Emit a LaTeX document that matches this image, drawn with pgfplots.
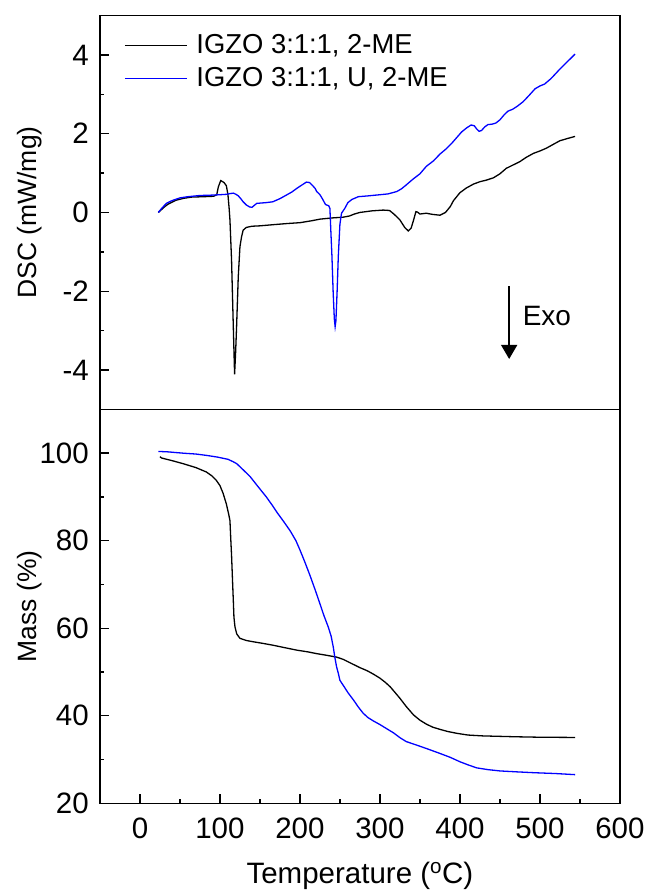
\documentclass[border=0pt]{standalone}
\usepackage{fontspec}
\setmainfont{Liberation Sans}
\usepackage{pgfplots}
\pgfplotsset{compat=1.18}
\usetikzlibrary{arrows.meta}
\newcommand{\ff}{\fontsize{26.5}{31.8}\selectfont}
\newcommand{\ft}{\fontsize{29.5}{35}\selectfont}
\newcommand{\fl}{\fontsize{27.4}{33}\selectfont}
\newcommand{\fe}{\fontsize{28}{33}\selectfont}

\pgfplotstableread{
x y
23 0.00
30 0.13
35 0.21
45 0.31
55 0.36
65 0.39
80 0.40
92 0.41
96 0.45
98 0.65
101 0.81
105 0.76
108 0.68
110 0.45
111.5 0.1
112.5 -0.19
114.5 -1.2
116.7 -2.9
118.3 -4.11
119.5 -3.6
120.8 -2.9
122.9 -1.63
125 -0.87
127 -0.62
129 -0.45
133 -0.38
140 -0.35
150 -0.34
167 -0.31
185 -0.28
200 -0.26
215 -0.21
225 -0.17
240 -0.14
254 -0.12
262 -0.09
268 -0.04
275 0.00
290 0.04
304 0.06
312 0.05
318 -0.05
325 -0.19
331 -0.38
335.5 -0.47
339 -0.40
342 -0.20
345 0.02
347 0.01
350 -0.04
358 -0.02
366 -0.05
375 -0.07
382 0.00
388 0.15
392 0.30
400 0.50
408 0.62
417 0.72
425 0.78
433 0.82
442 0.88
450 0.98
458 1.12
466 1.20
475 1.29
483 1.40
492 1.50
500 1.56
508 1.63
516 1.72
525 1.82
535 1.88
544 1.93
}\dscA

\pgfplotstableread{
x y
23 0.00
27 0.10
33 0.23
40 0.30
50 0.37
60 0.40
75 0.43
90 0.44
100 0.45
108 0.46
113 0.48
117 0.49
120 0.46
123 0.42
126 0.35
129 0.27
133 0.19
137 0.14
140 0.13
143 0.18
146 0.23
152 0.24
158 0.25
166 0.27
175 0.35
183 0.44
190 0.52
196 0.61
202 0.69
208 0.77
212 0.76
215 0.70
219 0.61
221 0.53
225 0.45
228 0.35
232 0.20
236 0.17
237.5 0.10
238.5 -0.4
240 -1.1
241.5 -2.0
243 -2.7
244 -2.90
245 -2.75
246.5 -2.0
248 -1.1
250 -0.3
252 -0.02
256 0.10
260 0.25
265 0.33
273 0.40
285 0.42
300 0.45
310 0.47
321 0.53
327 0.60
333 0.70
341 0.84
350 0.98
358 1.17
367 1.31
375 1.48
382 1.60
390 1.76
396 1.90
402 2.04
408 2.14
414 2.22
418 2.20
421 2.12
424 2.06
427 2.08
431 2.17
435 2.23
440 2.24
445 2.27
450 2.35
455 2.47
460 2.57
466 2.62
472 2.70
479 2.81
486 2.96
494 3.14
500 3.21
506 3.26
514 3.40
520 3.53
525 3.64
531 3.76
537 3.88
544 4.02
}\dscB

\pgfplotstableread{
x y
25 99.2
27 98.9
40 98.3
54 97.6
70 96.7
83 95.7
90 94.8
95 93.9
100 92.6
104 90.8
108 88.4
111 86.0
112.5 84.6
113.5 80.5
114.6 76.3
115.7 71.0
116.7 66.4
117.5 62.5
118.8 60.3
121 58.7
125 57.7
133 57.2
142 56.9
155 56.5
167 56.1
180 55.6
196 55.0
210 54.6
221 54.2
234 53.8
246 53.4
254 52.9
265 51.9
275 51.0
284 50.3
292 49.5
300 48.6
307 47.6
313 46.6
319 45.3
325 44.0
333 42.1
342 40.2
350 39.0
358 38.1
366 37.4
375 36.9
385 36.4
396 36.0
410 35.6
429 35.4
450 35.3
471 35.2
500 35.1
544 35.05
}\tgaA

\pgfplotstableread{
x y
23 100.4
35 100.3
54 100.0
70 99.8
83 99.5
97 99.1
110 98.6
116 98.1
121 97.6
129 96.2
137.5 94.7
147 92.5
158 90.0
165 88.2
172 86.3
180 84.3
188 82.2
195 80.0
200 77.9
206 75.2
212.5 72.1
219 68.8
225 65.6
230 62.9
235.4 60.3
239 58.2
241.7 55.7
243.5 53.5
245.8 51.2
248 49.7
250 48.1
254 47.0
260 45.3
267 43.6
273 42.0
279 40.6
285 39.6
292 38.8
300 38.0
308 37.1
317 36.1
325 35.0
333 34.1
346 33.3
360 32.4
375 31.4
388 30.5
400 29.5
410 28.8
421 28.1
435 27.7
450 27.4
470 27.2
492 27.0
520 26.8
544 26.55
}\tgaB

\begin{document}
\begin{tikzpicture}[font=\ff]
\pgfplotsset{
 common/.style={
  scale only axis, width=520pt, height=394pt,
  xmin=-50, xmax=600,
  axis line style={line width=1.6pt},
  tick align=inside,
  major tick length=9pt, minor tick length=4.5pt,
  every tick/.style={black, line width=1.4pt},
  xtick pos=left, ytick pos=left,
  /pgf/number format/assume math mode=true,
  tick label style={font=\ft},
  xticklabel style={anchor=north, inner sep=0pt, yshift=-14.7pt},
  yticklabel style={anchor=east, inner sep=0pt, xshift=-11pt},
  label style={font=\ff},
  every axis y label/.style={at={(axis description cs:-0.1346,0.5)}, rotate=90, anchor=center},
  every axis plot/.append style={line width=1.3pt},
 }
}
\begin{axis}[common, name=bot, at={(0,0)}, anchor=south west,
  ymin=20, ymax=110, ytick={20,40,60,80,100}, minor ytick={30,50,70,90},
  xtick={0,100,...,600}, minor xtick={50,150,...,550},
  ylabel={Mass (\%)},
  xlabel={Temperature (\textsuperscript{o}C)},
  every axis x label/.style={at={(axis description cs:0.5,-0.2023)}, anchor=base, font=\ft},
  ]
\addplot[black, no markers] table[x=x,y=y] {\tgaA};
\addplot[blue, no markers] table[x=x,y=y] {\tgaB};
\end{axis}
\begin{axis}[common, name=top, at={(0,394pt)}, anchor=south west,
  ymin=-5, ymax=5, ytick={-4,-2,0,2,4}, minor ytick={-3,-1,1,3},
  xtick=\empty,
  ylabel={DSC (mW/mg)},
  legend cell align=left,
  legend image code/.code={\draw[#1, line width=1.3pt] (0pt,0pt) -- (62pt,0pt);},
  legend style={at={(axis description cs:0.0462,0.9548)}, anchor=north west,
    draw=none, fill=none, inner sep=0pt, column sep=9pt, row sep=9.3pt, font=\fl,
    nodes={inner xsep=0pt, inner ysep=0pt, text height=20pt, text depth=4pt}},
  ]
\addplot[black, no markers] table[x=x,y=y] {\dscA};
\addplot[blue, no markers] table[x=x,y=y] {\dscB};
\legend{{IGZO 3:1:1, 2-ME},{IGZO 3:1:1, U, 2-ME}}
\draw[-{Triangle[length=14pt,width=16pt]}, line width=1.5pt] (axis cs:461.6,-1.87) -- (axis cs:461.6,-3.72);
\node[anchor=west, inner sep=0pt, font=\fe] at (axis cs:478.4,-2.64) {Exo};
\end{axis}
\pgfresetboundingbox
\path[use as bounding box] ([shift={(-100pt,-89.7pt)}]bot.south west) rectangle ([shift={(28pt,15.5pt)}]top.north east);
\end{tikzpicture}
\end{document}
